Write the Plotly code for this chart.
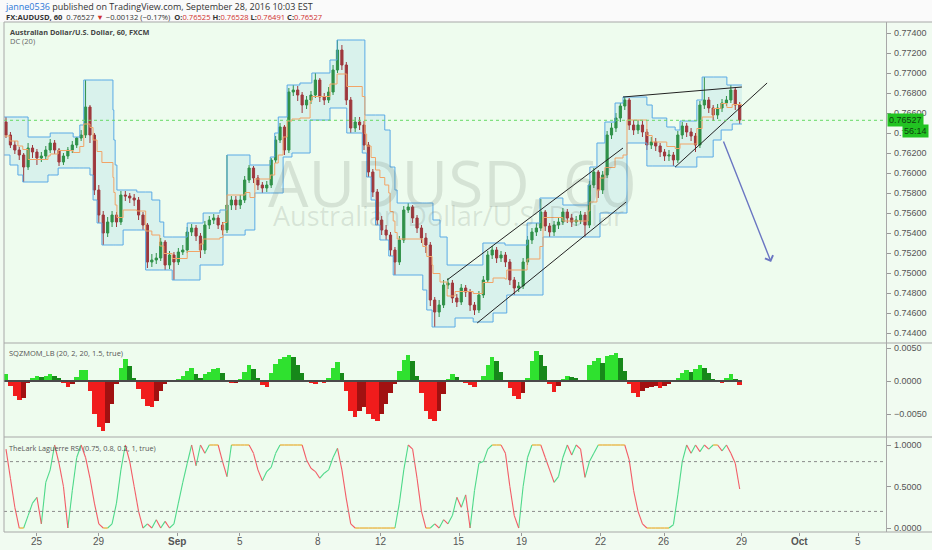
import numpy as np
import plotly.graph_objects as go

# ---------------- data (4-hour bars, prices in units of 0.0001) ----------------
first_open = 7651
close_p = [7638,7628,7623,7618,7606,7625,7621,7615,7617,7623,
           7630,7623,7611,7617,7623,7628,7635,7638,7666,7638,
           7583,7558,7540,7551,7558,7551,7578,7577,7575,7573,
           7558,7548,7511,7513,7515,7531,7508,7518,7511,7521,
           7523,7541,7545,7537,7523,7548,7553,7555,7548,7543,
           7568,7573,7568,7573,7593,7605,7595,7588,7585,7588,
           7613,7633,7646,7623,7681,7683,7678,7668,7673,7678,
           7693,7676,7673,7681,7703,7723,7708,7673,7645,7651,
           7648,7628,7601,7581,7553,7543,7538,7523,7511,7533,
           7563,7566,7555,7545,7535,7528,7473,7461,7468,7488,
           7490,7475,7471,7485,7481,7468,7463,7478,7493,7518,
           7523,7515,7518,7511,7493,7485,7487,7511,7533,7541,
           7545,7561,7547,7541,7548,7551,7561,7555,7551,7553,
           7558,7548,7588,7601,7583,7598,7638,7645,7655,7667,
           7673,7648,7643,7648,7641,7628,7631,7627,7621,7617,
           7618,7613,7638,7647,7641,7637,7628,7668,7673,7665,
           7658,7665,7670,7673,7683,7668,7653]
high_p = [7656,7641,7632,7626,7620,7630,7628,7624,7621,7627,
          7634,7633,7625,7620,7626,7632,7636,7643,7693,7668,
          7640,7588,7562,7556,7562,7561,7582,7582,7580,7579,
          7576,7561,7550,7519,7520,7535,7533,7522,7521,7525,
          7528,7546,7549,7548,7540,7552,7557,7559,7558,7551,
          7618,7577,7577,7578,7597,7608,7607,7598,7591,7592,
          7615,7637,7650,7648,7685,7688,7687,7681,7677,7682,
          7700,7695,7680,7686,7708,7733,7728,7711,7676,7656,
          7656,7652,7631,7604,7584,7557,7548,7541,7526,7537,
          7567,7570,7568,7558,7548,7540,7531,7476,7473,7493,
          7495,7493,7479,7489,7488,7484,7471,7482,7497,7522,
          7527,7526,7522,7521,7514,7496,7491,7515,7537,7545,
          7550,7574,7563,7550,7552,7555,7565,7564,7559,7557,
          7562,7561,7592,7605,7603,7602,7642,7650,7660,7670,
          7676,7675,7653,7653,7652,7644,7636,7635,7630,7624,
          7623,7621,7642,7651,7650,7645,7640,7672,7696,7676,
          7668,7669,7674,7677,7688,7686,7671]
low_p = [7635,7625,7619,7613,7591,7603,7615,7608,7611,7614,
         7620,7619,7607,7608,7614,7620,7625,7632,7635,7630,
         7578,7550,7528,7536,7546,7546,7548,7572,7570,7567,
         7553,7543,7505,7506,7509,7512,7503,7504,7493,7508,
         7518,7520,7537,7532,7515,7519,7544,7549,7544,7538,
         7540,7563,7563,7564,7570,7590,7590,7583,7580,7581,
         7585,7610,7630,7618,7620,7677,7672,7660,7664,7669,
         7675,7671,7668,7670,7678,7700,7703,7668,7640,7641,
         7643,7623,7596,7576,7548,7538,7533,7517,7498,7508,
         7530,7560,7550,7540,7530,7520,7467,7446,7456,7465,
         7484,7470,7466,7468,7476,7462,7458,7460,7475,7490,
         7514,7510,7511,7506,7488,7478,7481,7484,7508,7529,
         7537,7542,7542,7536,7537,7544,7548,7550,7546,7547,
         7549,7536,7545,7585,7575,7579,7595,7634,7641,7651,
         7663,7643,7638,7639,7636,7623,7624,7622,7616,7612,
         7612,7607,7610,7634,7636,7632,7621,7625,7664,7660,
         7652,7654,7661,7667,7670,7663,7649]

# last quote (header / price label)
last_price = 0.76527
quote_open, quote_high, quote_low = 0.76525, 0.76528, 0.76491
quote_change, quote_pct = -0.00132, -0.17
countdown = "56:14"

# Donchian channel DC(20) steps: (bar index, price*1e4)
dc_up_x = [-0.7, 5.0, 10.0, 15.2, 16.7, 17.6, 24.2, 24.4, 24.7, 25.1, 29.6, 33.0, 34.8, 35.7,
           41.0, 44.6, 48.4, 50.0, 55.2, 59.8, 60.8, 61.6, 63.6, 66.5, 69.2, 73.3, 74.9,
           81.2, 85.7, 86.9, 88.0, 88.5, 96.6, 98.2, 99.8, 107.9, 112.9, 117.9, 120.8,
           126.0, 131.7, 132.1, 133.7, 135.5, 137.8, 139.6, 145.0, 146.2, 149.5, 151.4,
           152.5, 156.3, 157.5, 163.1, 166.5]
dc_up_v = [7656, 7636, 7640, 7636, 7648, 7693, 7663, 7633, 7608, 7583, 7581, 7573, 7551, 7536,
           7550, 7560, 7563, 7618, 7608, 7616, 7640, 7656, 7688, 7690, 7700, 7713, 7733,
           7658, 7643, 7606, 7583, 7570, 7553, 7536, 7508, 7530, 7528, 7550, 7575,
           7568, 7588, 7606, 7630, 7651, 7670, 7676, 7668, 7655, 7646, 7643,
           7652, 7673, 7696, 7688, 7688]
dc_lo_x = [-0.7, 0.9, 2.7, 3.8, 9.5, 11.8, 19.0, 19.7, 20.6, 21.7, 26.5, 31.6, 37.6, 43.9,
           49.1, 54.1, 56.3, 62.7, 64.7, 68.8, 73.3, 77.1, 80.6, 81.6, 82.6, 83.6, 84.6,
           86.6, 87.6, 94.3, 95.2, 96.4, 101.6, 105.7, 110.2, 113.3, 121.5, 134.4, 140.5,
           145.0, 151.4, 156.3, 160.0, 161.8, 164.3, 166.5]
dc_lo_v = [7618, 7608, 7598, 7591, 7598, 7605, 7598, 7573, 7550, 7528, 7543, 7503, 7493, 7508,
           7538, 7543, 7580, 7616, 7620, 7653, 7665, 7640, 7620, 7596, 7573, 7548, 7533,
           7517, 7498, 7483, 7463, 7446, 7455, 7451, 7460, 7478, 7536, 7560, 7630,
           7607, 7606, 7616, 7633, 7643, 7649, 7649]

# Squeeze momentum (units of 0.0001)
sqz = [11,-8,-22,-29,-25,-3,5,7,6,8,
       10,7,4,-3,-9,-5,6,16,17,-15,
       -50,-70,-76,-63,-35,-5,20,34,22,5,
       -12,-28,-38,-39,-30,-15,-4,-1,2,3,
       8,15,19,10,5,10,14,18,19,12,
       2,-3,-3,3,14,25,18,4,-6,-9,
       12,26,34,36,39,37,25,12,1,-3,
       -4,-2,-3,5,20,29,12,-15,-45,-55,
       -45,-40,-50,-58,-60,-50,-35,-18,-5,15,
       32,40,30,8,-18,-45,-58,-60,-45,-20,
       3,11,6,2,-3,-6,-9,-2,8,25,
       36,30,14,2,-10,-22,-27,-18,5,30,
       45,40,22,-5,-17,-8,3,7,6,4,
       2,1,25,30,35,28,38,40,42,35,
       15,-5,-18,-24,-15,-10,-9,-8,-10,-8,
       -5,-2,4,12,16,14,18,24,20,12,
       3,-2,-3,4,10,3,-6]

# Laguerre RSI
lrsi = [0.95,0.6,0.25,0.0,0.0,0.15,0.3,0.37,0.05,0.55,
        0.7,1.0,0.78,0.5,0.0,0.45,0.85,1.0,0.85,0.6,
        0.3,0.05,0.0,0.0,0.05,0.3,0.7,1.0,0.8,0.5,
        0.2,0.0,0.05,0.0,0.1,0.0,0.08,0.0,0.05,0.3,
        0.55,0.78,1.0,0.75,1.0,0.9,1.0,1.0,1.0,0.8,
        0.62,1.0,1.0,1.0,1.0,1.0,0.9,0.7,0.57,0.68,
        0.73,0.9,1.0,1.0,1.0,1.0,1.0,1.0,0.82,0.72,
        0.68,0.6,0.66,0.7,0.85,0.96,0.7,0.35,0.05,0.0,
        0.0,0.0,0.0,0.0,0.0,0.0,0.0,0.0,0.0,0.3,
        0.7,1.0,0.95,0.6,0.2,0.0,0.0,0.05,0.0,0.1,
        0.05,0.15,0.37,0.25,0.4,0.0,0.45,0.78,0.8,0.95,
        1.0,1.0,1.0,0.9,0.5,0.15,0.0,0.5,0.85,1.0,
        1.0,1.0,0.85,0.7,0.55,0.62,0.85,1.0,0.88,1.0,
        0.95,0.61,0.8,0.9,1.0,1.0,1.0,1.0,1.0,1.0,
        1.0,0.82,0.45,0.2,0.05,0.0,0.0,0.0,0.0,0.0,
        0.0,0.04,0.4,0.8,1.0,0.9,1.0,0.92,1.0,0.95,
        1.0,1.0,0.93,1.0,0.9,0.78,0.47]

date_ticks = [7.0, 21.0, 38.7, 52.9, 70.6, 84.8, 102.5, 116.7, 134.6, 148.9, 166.5, 179.6, 192.8]
date_labels = ["25", "29", "<b>Sep</b>", "5", "8", "12", "15", "19", "22", "26", "29", "<b>Oct</b>", "5"]
price_ticks = [0.744, 0.746, 0.748, 0.750, 0.752, 0.754, 0.756, 0.758, 0.760, 0.762,
               0.764, 0.766, 0.768, 0.770, 0.772, 0.774]
sqz_ticks = [-0.005, 0.0, 0.005]
lrsi_ticks = [0.0, 0.5, 1.0]
lrsi_levels = [0.8, 0.2]

# user drawings: (bar index list, price*1e4 list)
channel_top = ([99.8, 139.6], [7493, 7625])
channel_bot = ([106.6, 140.3], [7450, 7571])
resistance = ([139.6, 166.5], [7676, 7686])
support = ([151.4, 172.2], [7606, 7690])
arrow_line = ([162.2, 173.1], [7633, 7511])

# ---------------- build ----------------
S = 1e-4
n = len(close_p)
bars = np.arange(n)
c = np.array(close_p) * S
h = np.array(high_p) * S
l = np.array(low_p) * S
o = np.concatenate([[first_open * S], c[:-1]])

grid = np.unique(np.concatenate([dc_up_x, dc_lo_x]))


def step(xs, vs, g):
    k = np.searchsorted(np.array(xs), g, side="right") - 1
    return np.array(vs)[np.clip(k, 0, None)] * S


up = step(dc_up_x, dc_up_v, grid)
lo = step(dc_lo_x, dc_lo_v, grid)
mid = (up + lo) / 2

fig = go.Figure()
fig.add_trace(go.Scatter(x=grid, y=lo, mode="lines", line=dict(color="#5aaae6", width=1, shape="hv"),
                         hoverinfo="skip", showlegend=False))
fig.add_trace(go.Scatter(x=grid, y=up, mode="lines", line=dict(color="#5aaae6", width=1, shape="hv"),
                         fill="tonexty", fillcolor="rgba(110,195,225,0.17)", hoverinfo="skip", showlegend=False))
fig.add_trace(go.Scatter(x=grid, y=mid, mode="lines", line=dict(color="#f2a467", width=1, shape="hv"),
                         hoverinfo="skip", showlegend=False))
fig.add_trace(go.Candlestick(x=bars, open=o, high=h, low=l, close=c,
                             increasing=dict(line=dict(color="#23872a", width=1), fillcolor="#23872a"),
                             decreasing=dict(line=dict(color="#a81c1c", width=1), fillcolor="#a81c1c"),
                             whiskerwidth=0, showlegend=False, hoverinfo="skip"))
for xs, ys in (channel_top, channel_bot, resistance, support):
    fig.add_trace(go.Scatter(x=xs, y=np.array(ys) * S, mode="lines",
                             line=dict(color="#222222", width=1), showlegend=False, hoverinfo="skip"))

# squeeze momentum
v = np.array(sqz) * S
prev = np.concatenate([[0.0], v[:-1]])
cols = []
for a, p in zip(v, prev):
    if a >= 0:
        cols.append("#2fe12f" if a > p else "#17881a")
    else:
        cols.append("#f01c1c" if a < p else "#a11111")
fig.add_trace(go.Bar(x=bars, y=v, marker=dict(color=cols, line=dict(width=0)), width=1.02,
                     yaxis="y2", showlegend=False, hoverinfo="skip"))
fig.add_trace(go.Scatter(x=[bars[0] - 0.5, bars[-1] + 0.5], y=[0, 0], mode="lines",
                         line=dict(color="#4a4a4a", width=2.2), yaxis="y2",
                         showlegend=False, hoverinfo="skip"))

# Laguerre RSI segments coloured by direction
lr = np.array(lrsi)
seg_cols = {"up": "#4fd98a", "dn": "#f25c66", "flat": "#e8a41c"}
segs = {k: ([], []) for k in seg_cols}
for i in range(1, n):
    d = lr[i] - lr[i - 1]
    k = "up" if d > 0 else ("dn" if d < 0 else "flat")
    segs[k][0].extend([bars[i - 1], bars[i], None])
    segs[k][1].extend([lr[i - 1], lr[i], None])
for k, (xs, ys) in segs.items():
    fig.add_trace(go.Scatter(x=xs, y=ys, mode="lines", line=dict(color=seg_cols[k], width=1.1),
                             yaxis="y3", showlegend=False, hoverinfo="skip", connectgaps=False))

# ---------------- layout ----------------
W, H = 932, 550
ml, mr, mt, mb = 4, 46, 22, 18
pw, ph = W - ml - mr, H - mt - mb


def py(pix):
    return (H - mb - pix) / ph


def px(pix):
    return (pix - ml) / pw


d_main = [py(343), 1.0]
d_sqz = [py(437), py(343)]
d_lr = [0.0, py(437)]

common_y = dict(anchor="x", side="right", ticks="outside", ticklen=4, tickcolor="#999999",
                showticklabels=False, showgrid=False, zeroline=False, showline=True, linecolor="#a8a8a8")
fig.update_layout(
    width=W, height=H, margin=dict(l=ml, r=mr, t=mt, b=mb),
    paper_bgcolor="#f1fbf1", plot_bgcolor="#eefcee",
    bargap=0, showlegend=False, hovermode=False,
    xaxis=dict(domain=[0, 1], anchor="y3", range=[-0.45, 199.1], tickvals=date_ticks,
               ticks="outside", ticklen=3, tickcolor="#999999", showticklabels=False,
               showgrid=False, zeroline=False, showline=False, rangeslider=dict(visible=False)),
    yaxis=dict(domain=d_main, range=[0.7430, 0.7751], tickvals=price_ticks, **common_y),
    yaxis2=dict(domain=d_sqz, range=[-0.008485, 0.005758], tickvals=sqz_ticks, **common_y),
    yaxis3=dict(domain=d_lr, range=[-0.048, 1.0964], tickvals=lrsi_ticks, **common_y),
)

shapes = []
shapes.append(dict(type="rect", xref="paper", yref="paper", x0=px(0), x1=px(W), y0=1.0, y1=py(0),
                   fillcolor="#fafafa", line=dict(width=0), layer="below"))
shapes.append(dict(type="line", xref="paper", yref="y", x0=0, x1=1, y0=last_price, y1=last_price,
                   line=dict(color="#66d966", width=1, dash="dot")))
for lvl in lrsi_levels:
    shapes.append(dict(type="line", xref="paper", yref="y3", x0=0, x1=1, y0=lvl, y1=lvl,
                       line=dict(color="#8c8c8c", width=1, dash="dot")))
for yy in (1.0, d_main[0], d_sqz[0], 0.0):
    shapes.append(dict(type="line", xref="paper", yref="paper", x0=0, x1=px(W), y0=yy, y1=yy,
                       line=dict(color="#a8a8a8", width=1.2)))
shapes.append(dict(type="line", xref="paper", yref="paper", x0=0, x1=0, y0=0, y1=1,
                   line=dict(color="#a8a8a8", width=1)))
fig.update_layout(shapes=shapes)

red = "#d0312d"
tickfont = dict(family="Liberation Sans, Arial, sans-serif", size=9, color="#555555")
ann = []
for t in price_ticks:
    ann.append(dict(xref="paper", yref="y", x=px(892), y=t, xanchor="left", yanchor="middle",
                    showarrow=False, font=tickfont, text="%.5f" % t))
for t in sqz_ticks:
    ann.append(dict(xref="paper", yref="y2", x=px(892), y=t, xanchor="left", yanchor="middle",
                    showarrow=False, font=tickfont, text=("%.4f" % t).replace("-", "−")))
for t in lrsi_ticks:
    ann.append(dict(xref="paper", yref="y3", x=px(892), y=t, xanchor="left", yanchor="middle",
                    showarrow=False, font=tickfont, text="%.4f" % t))
for t, lab in zip(date_ticks, date_labels):
    ann.append(dict(xref="x", yref="paper", x=t, y=py(541), xanchor="center", yanchor="middle",
                    showarrow=False,
                    font=dict(family="Liberation Sans Narrow, Arial Narrow, sans-serif", size=10, color="#555555"),
                    text=lab))

ann.append(dict(xref="paper", yref="paper", x=px(3), y=py(6.5), xanchor="left", yanchor="middle",
                showarrow=False, font=dict(family="Open Sans, sans-serif", size=9, color="#333333"),
                text="<span style='color:#2a78d8'>janne0536</span> published on TradingView.com, September 28, 2016 10:03 EST"))
hdr2 = ("<b>FX:AUDUSD, 60</b>  %.5f <span style='color:%s'>▼</span> %s (%s%%)  "
        "<b>O:</b><span style='color:%s'>%.5f</span> <b>H:</b><span style='color:%s'>%.5f</span> "
        "<b>L:</b><span style='color:%s'>%.5f</span> <b>C:</b><span style='color:%s'>%.5f</span>") % (
    last_price, red, ("%.5f" % quote_change).replace("-", "−"), ("%.2f" % quote_pct).replace("-", "−"),
    red, quote_open, red, quote_high, red, quote_low, red, last_price)
ann.append(dict(xref="paper", yref="paper", x=px(4), y=py(16.5), xanchor="left", yanchor="middle",
                showarrow=False, font=dict(family="Open Sans, sans-serif", size=7.6, color="#333333"),
                text=hdr2))
ann.append(dict(xref="paper", yref="paper", x=px(8), y=py(32), xanchor="left", yanchor="middle",
                showarrow=False, font=dict(family="Open Sans, sans-serif", size=7.3, color="#444444"),
                text="<b>Australian Dollar/U.S. Dollar, 60, FXCM</b>"))
ann.append(dict(xref="paper", yref="paper", x=px(8), y=py(41.5), xanchor="left", yanchor="middle",
                showarrow=False, font=dict(family="Open Sans, sans-serif", size=7.5, color="#666666"),
                text="DC (20)"))
ann.append(dict(xref="paper", yref="paper", x=px(7), y=py(353), xanchor="left", yanchor="middle",
                showarrow=False, font=dict(family="Open Sans, sans-serif", size=7.5, color="#555555"),
                text="SQZMOM_LB (20, 2, 20, 1.5, true)"))
ann.append(dict(xref="paper", yref="paper", x=px(7), y=py(448), xanchor="left", yanchor="middle",
                showarrow=False, font=dict(family="Open Sans, sans-serif", size=7.3, color="#555555"),
                text="TheLark Laguerre RSI (0.75, 0.8, 0.2, 1, true)"))
ann.append(dict(xref="paper", yref="paper", x=px(452), y=py(182), xanchor="center", yanchor="middle",
                showarrow=False, font=dict(family="Open Sans, sans-serif", size=64, color="rgba(90,100,90,0.16)"),
                text="AUDUSD, 60"))
ann.append(dict(xref="paper", yref="paper", x=px(448), y=py(215), xanchor="center", yanchor="middle",
                showarrow=False, font=dict(family="Open Sans, sans-serif", size=27, color="rgba(90,100,90,0.16)"),
                text="Australian Dollar/U.S. Dollar"))
ann.append(dict(xref="paper", yref="y", x=px(887), y=last_price, xanchor="left", yanchor="middle",
                showarrow=False, bgcolor="#22c322", borderpad=1,
                font=dict(family="Liberation Sans, Arial, sans-serif", size=9, color="#0f3f0f"),
                text="%.5f" % last_price))
ann.append(dict(xref="paper", yref="paper", x=px(902), y=py(131), xanchor="left", yanchor="middle",
                showarrow=False, bgcolor="#22c322", borderpad=1,
                font=dict(family="Liberation Sans, Arial, sans-serif", size=9, color="#0f3f0f"),
                text=countdown))
ann.append(dict(xref="x", yref="y", axref="x", ayref="y",
                x=arrow_line[0][1], y=arrow_line[1][1] * S,
                ax=arrow_line[0][0], ay=arrow_line[1][0] * S,
                showarrow=True, arrowhead=4, arrowsize=1.2, arrowwidth=1.4, arrowcolor="#6a76c2", text=""))
fig.update_layout(annotations=ann)

fig.write_html("out.html", config={"displayModeBar": False, "staticPlot": True},
               post_script="document.body.style.margin='0';document.body.style.padding='0';")
